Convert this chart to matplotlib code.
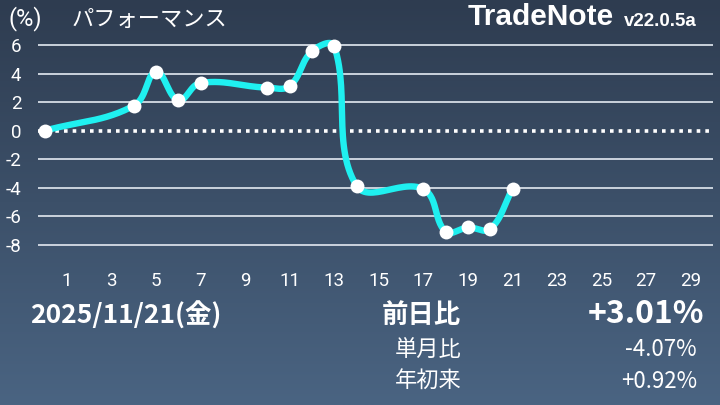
import numpy as np
import matplotlib
matplotlib.use("Agg")
import matplotlib.pyplot as plt
from matplotlib.colors import LinearSegmentedColormap

# performance (%) per trading day of the month
days = [0, 4, 5, 6, 7, 10, 11, 12, 13, 14, 17, 18, 19, 20, 21]
perf = [0.0, 1.75, 4.14, 2.13, 3.35, 3.02, 3.14, 5.57, 5.92,
        -3.86, -4.09, -7.07, -6.78, -6.88, -4.07]

ytick_vals = [-8, -6, -4, -2, 0, 2, 4, 6]
xtick_vals = list(range(1, 30, 2))

date_label = "2025/11/21(金)"
stat_names = ["前日比", "単月比", "年初来"]
stat_values = ["+3.01%", "-4.07%", "+0.92%"]

JP = ["Noto Sans CJK JP", "DejaVu Sans"]
plt.rcParams["font.family"] = ["Roboto", "Noto Sans CJK JP", "DejaVu Sans"]


def smooth(xs, ys, sx, sy, tension=0.4, n=30):
    # bezier smoothing like a chart library, done in pixel space
    px = np.array(xs, float) * sx
    py = np.array(ys, float) * sy
    m = len(px)
    cp1 = np.zeros((m, 2))
    cp2 = np.zeros((m, 2))
    for i in range(m):
        p = np.array([px[max(i - 1, 0)], py[max(i - 1, 0)]])
        c = np.array([px[i], py[i]])
        q = np.array([px[min(i + 1, m - 1)], py[min(i + 1, m - 1)]])
        d01 = np.hypot(*(c - p))
        d12 = np.hypot(*(q - c))
        tot = d01 + d12
        s01 = d01 / tot if tot else 0
        s12 = d12 / tot if tot else 0
        cp1[i] = c - tension * s01 * (q - p)
        cp2[i] = c + tension * s12 * (q - p)
    outx, outy = [], []
    t = np.linspace(0, 1, n)
    for i in range(m - 1):
        p0 = np.array([px[i], py[i]])
        p3 = np.array([px[i + 1], py[i + 1]])
        p1 = cp2[i]
        p2 = cp1[i + 1]
        b = ((1 - t) ** 3)[:, None] * p0 + (3 * (1 - t) ** 2 * t)[:, None] * p1 \
            + (3 * (1 - t) * t ** 2)[:, None] * p2 + (t ** 3)[:, None] * p3
        outx.extend(b[:, 0])
        outy.extend(b[:, 1])
    return np.array(outx) / sx, np.array(outy) / sy


fig = plt.figure(figsize=(7.2, 4.05), dpi=100)

# background gradient
bg = fig.add_axes([0, 0, 1, 1], zorder=0)
cmap = LinearSegmentedColormap.from_list("bg", ["#2e3c50", "#4a6482"])
bg.imshow(np.linspace(0, 1, 256)[:, None], aspect="auto", cmap=cmap,
          extent=[0, 1, 0, 1])
bg.set_axis_off()

ax = fig.add_axes([38 / 720, 1 - 262 / 405, 675 / 720, 234 / 405], zorder=1)
ax.patch.set_alpha(0)
ax.set_xlim(-0.3, 30)
ax.set_ylim(-9.2, 7.2)
for s in ax.spines.values():
    s.set_visible(False)

for v in ytick_vals:
    if v == 0:
        ax.axhline(v, color="white", lw=2.6, ls=(0, (1, 1.4)),
                   dash_capstyle="butt", zorder=2)
    else:
        ax.axhline(v, color="#d6dde6", lw=1.3, zorder=1)

sx_, sy_ = smooth(days, perf, 22.3, 14.25)
ax.plot(sx_, sy_, color="#1ff0f0", lw=4.6, solid_capstyle="round",
        zorder=3, clip_on=False)
ax.plot(days, perf, "o", color="white", ms=10, mec="none", zorder=4,
        clip_on=False)

ax.set_yticks(ytick_vals)
ax.set_yticklabels([str(v) for v in ytick_vals])
ax.set_xticks(xtick_vals)
ax.set_xticklabels([str(v) for v in xtick_vals])
ax.tick_params(axis="both", length=0, colors="white", labelsize=13.5)
ax.tick_params(axis="y", pad=12)
ax.tick_params(axis="x", pad=7)

# header texts
fig.text(8 / 720, 1 - 19 / 405, "(%)", color="white", fontsize=17,
         va="center", ha="left")
fig.text(72 / 720, 1 - 19 / 405, "パフォーマンス", color="white", fontsize=16,
         va="center", ha="left", family=JP)
fig.text(614 / 720, 1 - 17 / 405, "TradeNote", color="white", fontsize=21.5,
         fontweight="bold", va="center", ha="right", family="Liberation Sans")
fig.text(624 / 720, 1 - 21 / 405, "v22.0.5a", color="white", fontsize=13.5,
         fontweight="bold", va="center", ha="left", family="Liberation Sans")

# footer texts
fig.text(30 / 720, 1 - 316 / 405, date_label, color="white", fontsize=19,
         fontweight="bold", va="center", ha="left", family=JP)
fig.text(382 / 720, 1 - 315 / 405, stat_names[0], color="white", fontsize=19,
         fontweight="bold", va="center", ha="left", family=JP)
fig.text(704 / 720, 1 - 314 / 405, stat_values[0], color="white", fontsize=23,
         fontweight="bold", va="center", ha="right", family=JP)
for i, yy in enumerate([350, 381]):
    fig.text(395 / 720, 1 - yy / 405, stat_names[i + 1], color="white",
             fontsize=16, va="center", ha="left", family=JP)
    fig.text(697 / 720, 1 - yy / 405, stat_values[i + 1], color="white",
             fontsize=16, va="center", ha="right", family=JP)

fig.savefig("out.png", dpi=100)
